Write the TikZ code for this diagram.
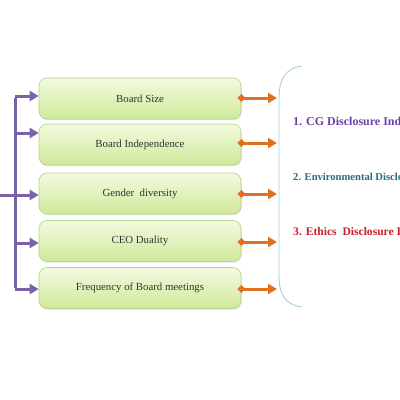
\documentclass[tikz,border=0pt]{standalone}
\usepackage{fontspec}
\setmainfont{Liberation Serif}
\usetikzlibrary{arrows.meta,shadows}
\definecolor{boxtop}{HTML}{F3FADF}
\definecolor{boxbot}{HTML}{CFE99A}
\definecolor{boxline}{HTML}{B4D58A}
\definecolor{purp}{HTML}{7B62A8}
\definecolor{orng}{HTML}{E2701C}
\definecolor{brace}{HTML}{A8CCE0}
\definecolor{t1}{HTML}{7040A8}
\definecolor{t2}{HTML}{2A6C80}
\definecolor{t3}{HTML}{C8202C}
\tikzset{
  factor/.style={rounded corners=8bp, draw=boxline, line width=0.6bp,
    top color=boxtop, bottom color=boxbot, minimum width=202bp, minimum height=41bp,
    inner sep=0pt, text=black!80, font=\fontsize{10.8bp}{13bp}\selectfont,
    drop shadow={shadow xshift=0.8bp, shadow yshift=-1.2bp, opacity=0.25, fill=black!40}},
  parrow/.style={draw=purp, line width=3bp, -{Triangle[length=9bp,width=10bp]}},
  pline/.style={draw=purp, line width=3bp},
  oarrow/.style={draw=orng, line width=3bp, {Kite[length=8bp,width=8bp,inset=4bp]}-{Triangle[length=9bp,width=10bp]}},
  idx/.style={anchor=west, inner sep=0pt, font=\bfseries\fontsize{12bp}{14bp}\selectfont}
}
\begin{document}
\begin{tikzpicture}[x=1bp,y=-1bp]
\useasboundingbox (0,0) rectangle (400,400);
\clip (0,0) rectangle (400,400);
\fill[white] (0,0) rectangle (400,400);
\node[factor] (b1) at (140,98.5) {Board Size};
\node[factor] (b2) at (140,144.5) {Board Independence};
\node[factor] (b3) at (140,193.5) {Gender\ \ diversity};
\node[factor] (b4) at (140,241) {CEO Duality};
\node[factor] (b5) at (140,288) {Frequency of Board meetings};
% purple tree
\coordinate (p1) at (15,96);
\coordinate (p2) at (15,133);
\coordinate (p4) at (15,243);
\coordinate (p5) at (15,289);
\coordinate (in) at (0,195);
\draw[pline] ([yshift=-1.5bp]p1) -- ([yshift=1.5bp]p5);
\draw[parrow] (p1) -- (p1 -| b1.west);
\draw[parrow] (p2) -- (p2 -| b2.west);
\draw[parrow] (in) -- (in -| b3.west);
\draw[parrow] (p4) -- (p4 -| b4.west);
\draw[parrow] (p5) -- (p5 -| b5.west);
% brace
\coordinate (bt) at (302,66);
\coordinate (bb) at (302,307);
\draw[brace, line width=0.9bp] (bt) .. controls (285,68) and (279,80) .. (279,98) -- (279,276) .. controls (279,294) and (285,305) .. (bb);
% orange arrows
\coordinate (o1) at (277,98);
\coordinate (o2) at (277,143);
\coordinate (o3) at (277,194);
\coordinate (o4) at (277,242);
\coordinate (o5) at (277,289);
\draw[oarrow] ([xshift=-4bp]b1.east |- o1) -- (o1);
\draw[oarrow] ([xshift=-4bp]b2.east |- o2) -- (o2);
\draw[oarrow] ([xshift=-4bp]b3.east |- o3) -- (o3);
\draw[oarrow] ([xshift=-4bp]b4.east |- o4) -- (o4);
\draw[oarrow] ([xshift=-4bp]b5.east |- o5) -- (o5);
% index texts
\node[idx, text=t1] (i1) at (293,121) {1. CG Disclosure Index};
\node[idx, text=t2, font=\bfseries\fontsize{10.6bp}{13bp}\selectfont] (i2) at (293,177) {2. Environmental Disclosure Index};
\node[idx, text=t3, font=\bfseries\fontsize{11.6bp}{14bp}\selectfont] (i3) at (293,232) {3. Ethics\ \ Disclosure Index};
\end{tikzpicture}
\end{document}
